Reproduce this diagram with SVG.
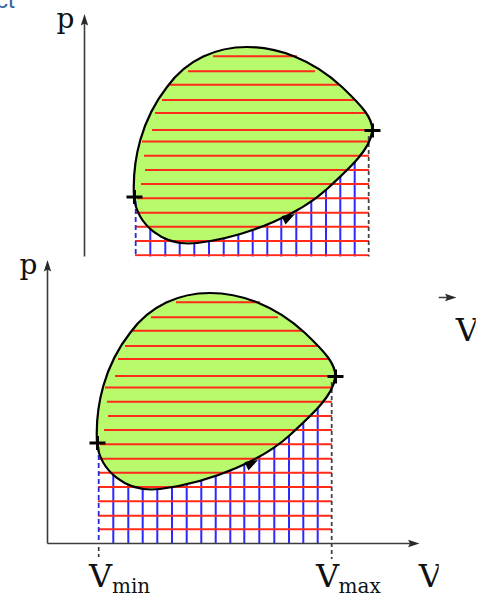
<svg xmlns="http://www.w3.org/2000/svg" xmlns:xlink="http://www.w3.org/1999/xlink" width="486" height="596" viewBox="0 0 486 596">
<style>
.red{stroke:#ff2a1a;stroke-width:2.1;fill:none}
.blue{stroke:#2a2aff;stroke-width:2;fill:none}
.axis{stroke:#3c3c3c;stroke-width:1.6;fill:none}
.head{fill:#2a2a2a}
.lbl{font-family:"DejaVu Serif",serif;fill:#111}
.plus{stroke:#000;stroke-width:3;fill:none}
</style>
<defs>
<path id="loopPath" d="M97,443 C95,405 105,365 130,333 C150,305 180,293 210,293 C240,293 275,305 305,333 C325,352 337,365 335,378 C333,395 315,412 290,435 C265,458 215,482 160,489 C125,493 100,470 97,443 Z"/>
<clipPath id="below"><path d="M335,378 C333,395 315,412 290,435 C265,458 215,482 160,489 C125,493 100,470 97,443 L97,545 L336,545 Z"/></clipPath>
<clipPath id="topclip"><rect x="0" y="0" width="475.7" height="596"/></clipPath>
<clipPath id="rightcut"><rect x="0" y="0" width="438.7" height="596"/></clipPath>
<g id="plot">
<path class="blue" clip-path="url(#below)" d="M113.3,360V543.5M128.3,360V543.5M142.7,360V543.5M157.3,360V543.5M172,360V543.5M186.7,360V543.5M201.3,360V543.5M215.7,360V543.5M230.3,360V543.5M244.3,360V543.5M259.3,360V543.5M274.3,360V543.5M289,360V543.5M303.3,360V543.5M317.7,360V543.5"/>
<use xlink:href="#loopPath" fill="#b9fa6c" stroke="none"/>
<path class="red" d="M176,302.3H260M151,317.3H278M133,330.7H302M125,346H317M118,359H330M115,376H334M105,387.5H332M107,401.7H332M108,416H332M104,430H332M100,444.3H332M99,458.7H332M98,472.7H332M98,487H332M98,501.3H332M98,515.7H332M98,529.3H332"/>
<path d="M98.7,447V543" stroke="#2a2ad0" stroke-width="1.8" stroke-dasharray="5 3" fill="none"/>
<path d="M98.7,547V557" stroke="#333" stroke-width="1.6" stroke-dasharray="4 3" fill="none"/>
<path d="M331.7,382V559" stroke="#444" stroke-width="1.8" stroke-dasharray="4 3" fill="none"/>
<use xlink:href="#loopPath" fill="none" stroke="#000" stroke-width="2.2"/>
<path class="axis" d="M47.5,543.5V268M47.5,543.5H411"/>
<path class="head" d="M47.5,260L51.2,271.5L47.5,269.5L43.8,271.5Z"/>
<path class="head" d="M419.5,543.5L408,547.2L410,543.5L408,539.8Z"/>
<path class="plus" d="M89.5,443H105.5M97.5,436V450M327.5,376.5H343.5M335.5,369.5V383.5"/>
<path d="M258,460L244.5,462L248.5,470.5Z" fill="#000"/>
</g>
</defs>
<text x="-4" y="8" font-family="Liberation Sans, Arial, sans-serif" font-size="24" fill="#3a65a5">ct</text>
<g id="top-diagram" clip-path="url(#topclip)">
<use xlink:href="#plot" transform="translate(37,-246)"/>
<text class="lbl" x="455.7" y="341" font-size="32">V</text>
</g>
<text class="lbl" x="56.5" y="27.5" font-size="28">p</text>
<rect x="0" y="256.5" width="438.7" height="339.5" fill="#fff"/>
<g id="bottom-diagram">
<use xlink:href="#plot"/>
<text class="lbl" x="19.5" y="273.5" font-size="28">p</text>
<text class="lbl" x="418.7" y="587" font-size="32" clip-path="url(#rightcut)">V</text>
<text class="lbl" x="89" y="587" font-size="32">V<tspan x="112" y="592.5" font-size="20">min</tspan></text>
<text class="lbl" x="316" y="587" font-size="32">V<tspan x="338.5" y="592.5" font-size="20">max</tspan></text>
</g>
</svg>
